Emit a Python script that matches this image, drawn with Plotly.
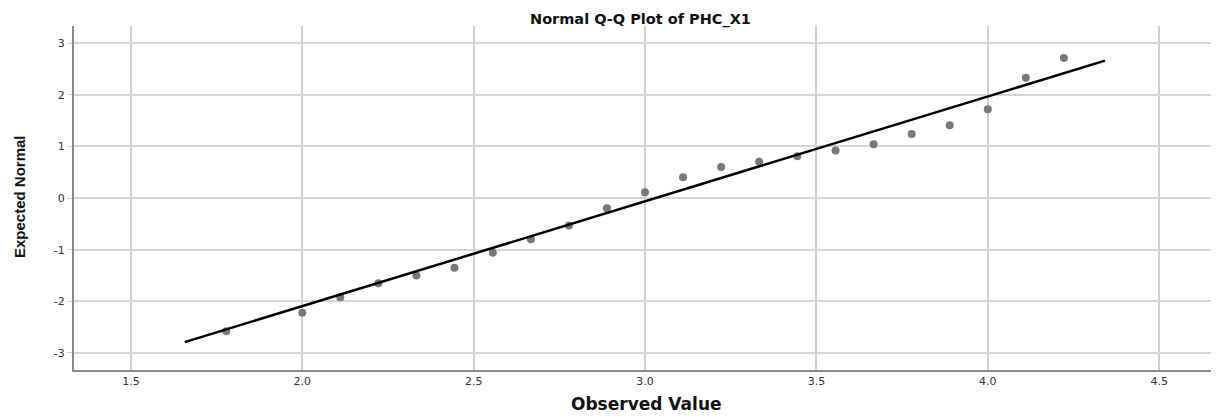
import plotly.graph_objects as go

observed = [1.778, 2.0, 2.111, 2.222, 2.333, 2.444, 2.556, 2.667, 2.778, 2.889, 3.0,
            3.111, 3.222, 3.333, 3.444, 3.556, 3.667, 3.778, 3.889, 4.0, 4.111, 4.222]
expected = [-2.58, -2.22, -1.92, -1.65, -1.50, -1.35, -1.06, -0.80, -0.53, -0.20, 0.11,
            0.40, 0.60, 0.70, 0.81, 0.92, 1.04, 1.24, 1.41, 1.72, 2.33, 2.71]
line_x = [1.657, 4.342]
line_y = [-2.79, 2.66]
x_ticks = [1.5, 2.0, 2.5, 3.0, 3.5, 4.0, 4.5]
y_ticks = [-3, -2, -1, 0, 1, 2, 3]
title_text = "Normal Q-Q Plot of PHC_X1"
x_title = "Observed Value"
y_title = "Expected Normal"

tick_font = dict(family="DejaVu Sans", size=11, color="#333")

# The page body has an 8px default margin, so the figure is drawn 8px smaller
# in each direction and all offsets are relative to the figure.
W, H = 1211, 411
L, R, T, B = 66, 4, 18, 49

fig = go.Figure()
fig.add_trace(go.Scatter(x=observed, y=expected, mode="markers",
                         marker=dict(color="#787878", size=8, line=dict(width=0)),
                         showlegend=False, hoverinfo="skip"))
fig.add_trace(go.Scatter(x=line_x, y=line_y, mode="lines",
                         line=dict(color="black", width=2.5),
                         showlegend=False, hoverinfo="skip"))

plot_w = W - L - R
plot_h = H - T - B


def px(xp):
    # page x pixel -> paper coordinate
    return (xp - 8 - L) / plot_w


def py(yp):
    # page y pixel -> paper coordinate
    return (H - B - (yp - 8)) / plot_h


fig.update_layout(
    width=W, height=H,
    margin=dict(l=L, r=R, t=T, b=B, autoexpand=False),
    paper_bgcolor="white", plot_bgcolor="white",
    xaxis=dict(range=[1.334, 4.663], tickvals=x_ticks, ticktext=[f"{v:.1f}" for v in x_ticks],
               showgrid=True, gridcolor="#cfcfcf", gridwidth=2, zeroline=False,
               showline=True, linecolor="#888", linewidth=1.5, ticks="",
               automargin=False, tickfont=tick_font),
    yaxis=dict(range=[-3.33, 3.33], tickvals=y_ticks, ticktext=[str(v) for v in y_ticks],
               showgrid=True, gridcolor="#d6d6d6", gridwidth=1.5, zeroline=False,
               showline=True, linecolor="#888", linewidth=2, ticks="outside", ticklen=5,
               tickcolor="#d0d0d0", automargin=False, tickfont=tick_font),
    annotations=[
        dict(text="<b>" + title_text + "</b>", xref="paper", yref="paper",
             x=px(640), y=py(8.5), xanchor="center", yanchor="top", showarrow=False,
             font=dict(family="DejaVu Sans", size=14.5, color="#111")),
        dict(text="<b>" + x_title + "</b>", xref="paper", yref="paper",
             x=px(646), y=py(404), xanchor="center", yanchor="middle", showarrow=False,
             font=dict(family="DejaVu Sans", size=17, color="#111")),
        dict(text="<b>" + y_title + "</b>", xref="paper", yref="paper",
             x=px(19), y=py(197), xanchor="center", yanchor="middle", showarrow=False,
             textangle=-90,
             font=dict(family="Liberation Sans", size=15, color="#111")),
    ],
)

fig.write_html("out.html")
